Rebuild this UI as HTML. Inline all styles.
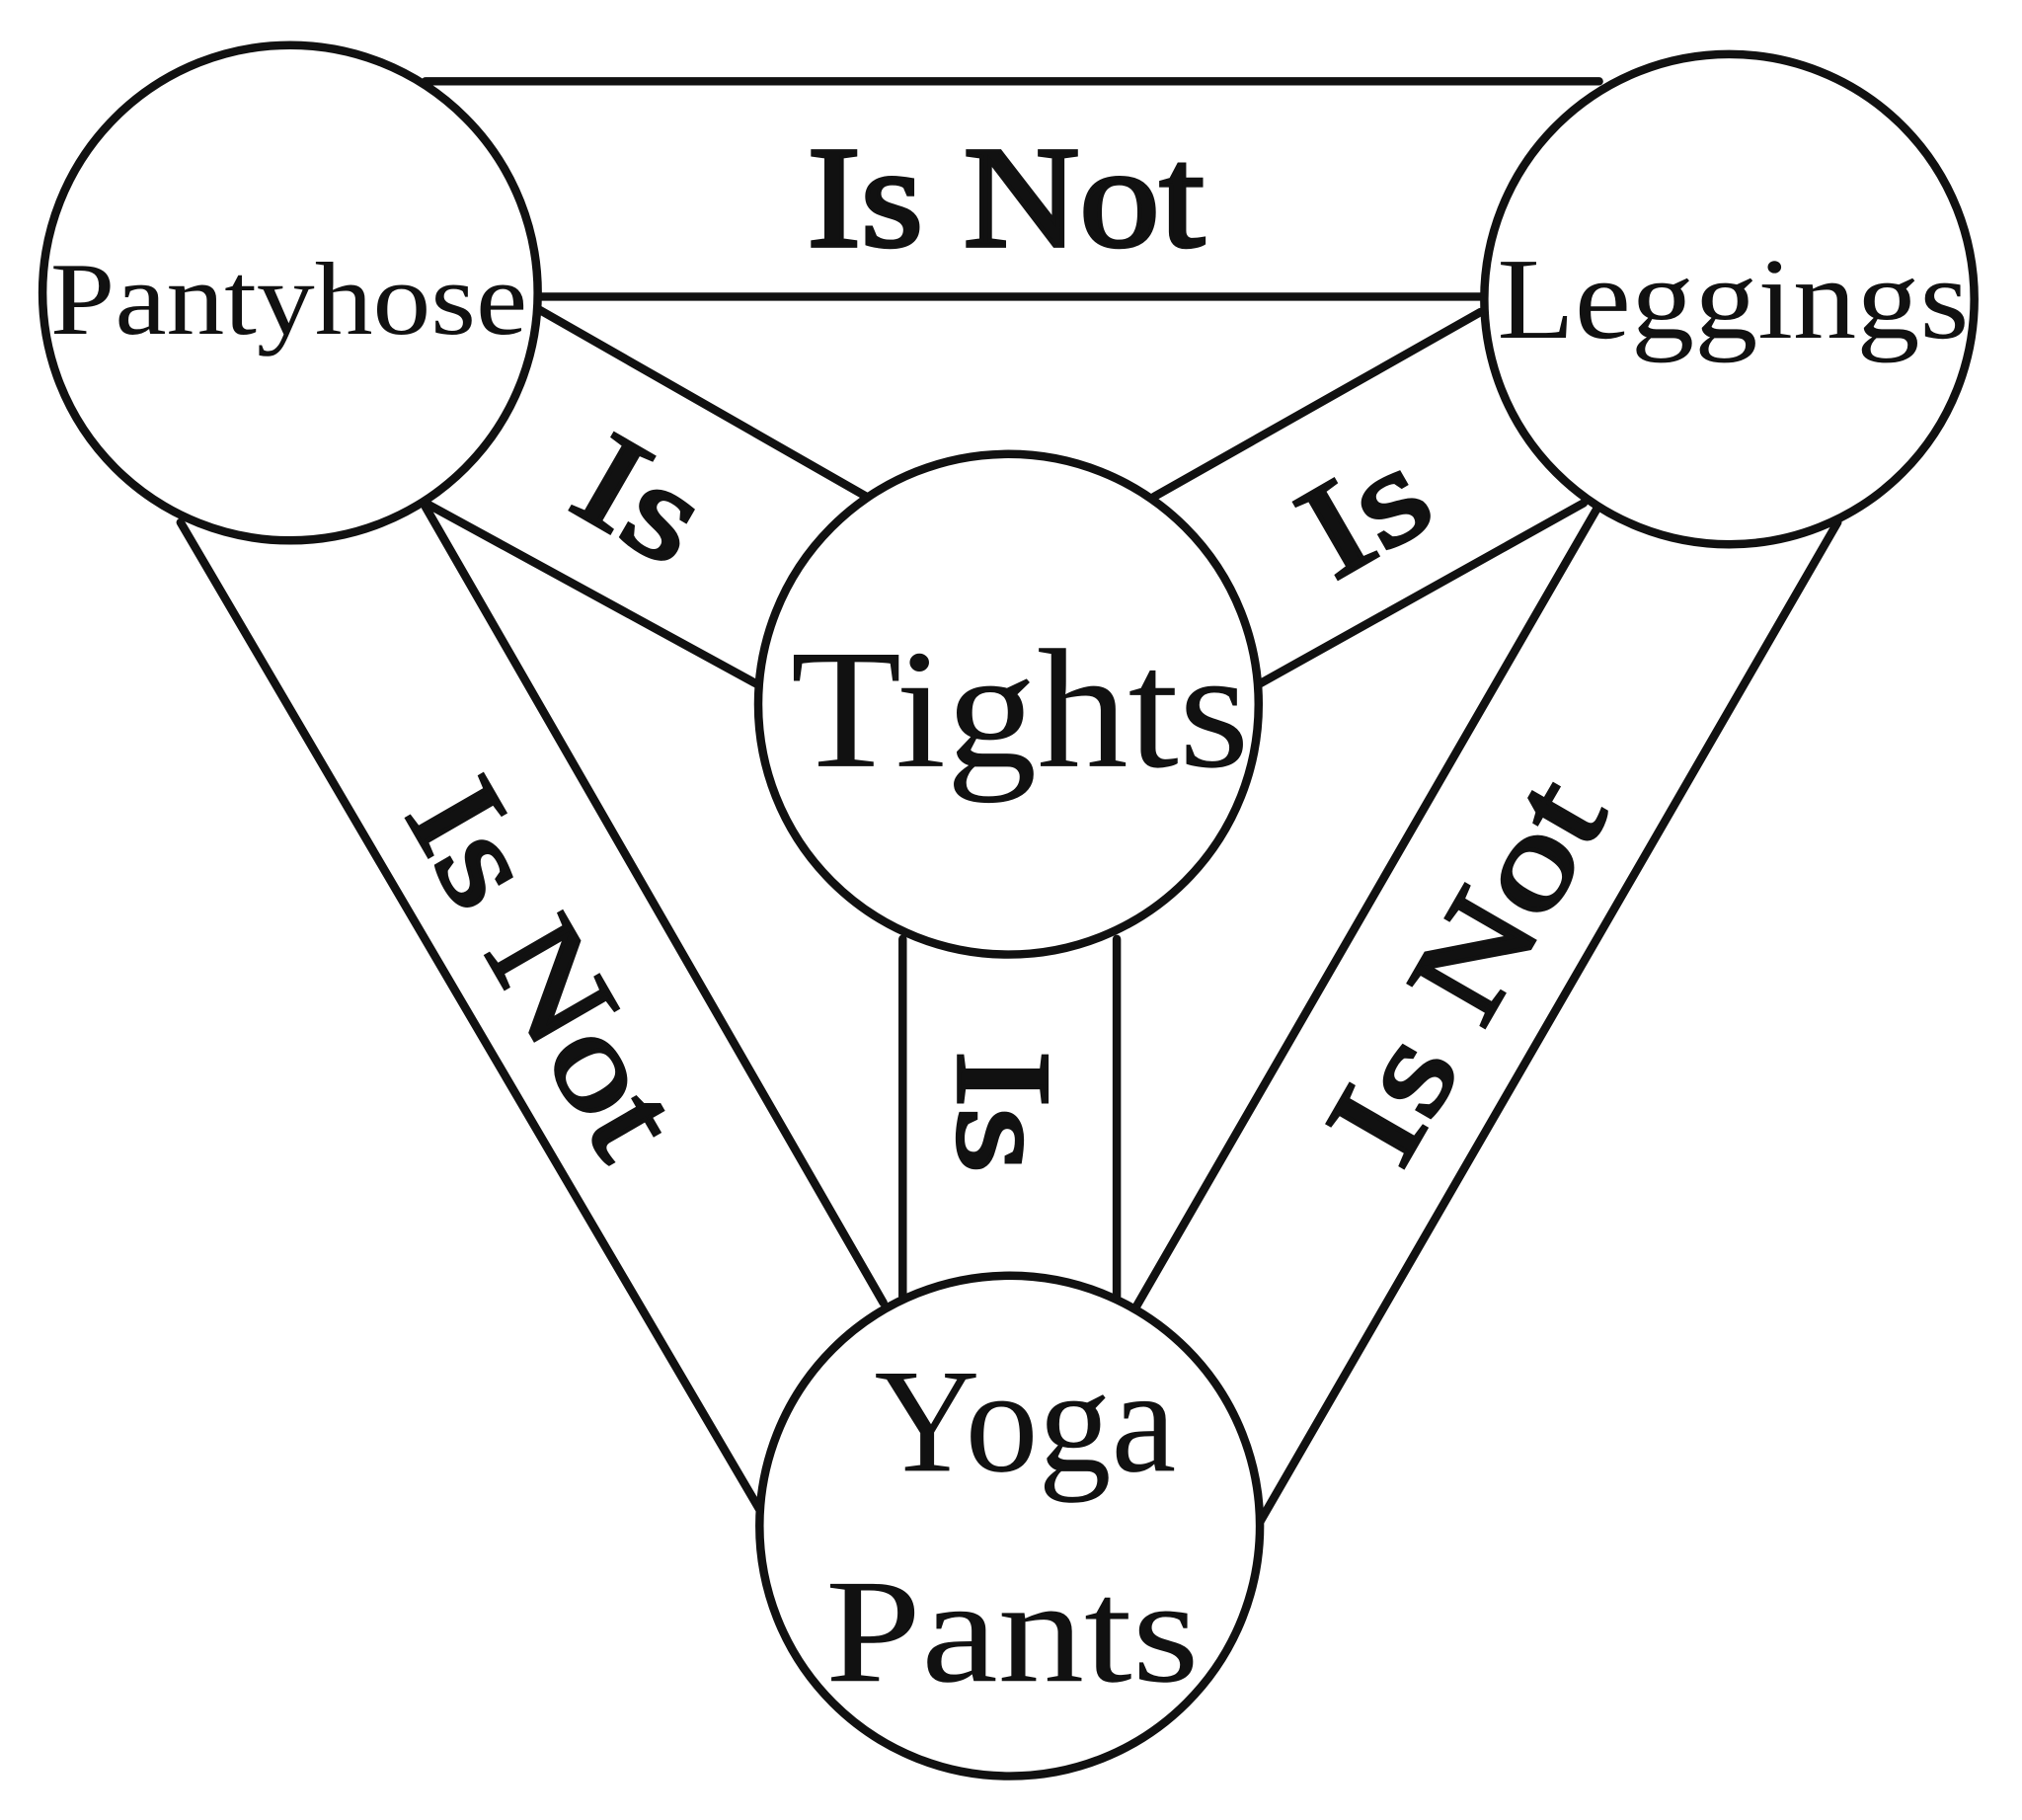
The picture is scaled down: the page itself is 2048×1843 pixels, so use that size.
<!DOCTYPE html>
<html><head><meta charset="utf-8"><style>
html,body{margin:0;padding:0;background:#fff;}
svg{display:block;}
text{font-family:"Liberation Serif","DejaVu Serif",serif;fill:#111;text-anchor:middle;dominant-baseline:central;}
.b{stroke:#111;stroke-width:3;}
</style></head><body>
<svg width="2048" height="1843" viewBox="0 0 1568 1411" xmlns="http://www.w3.org/2000/svg">
<rect width="1568" height="1411" fill="#fff"/>
<g stroke="#111" stroke-width="6.5" fill="none" stroke-linecap="round">
<line x1="330" y1="63" x2="1240" y2="63"/>
<line x1="418" y1="230" x2="1148" y2="230"/>
<line x1="418" y1="240" x2="672" y2="385"/>
<line x1="330" y1="390" x2="590" y2="532"/>
<line x1="895" y1="385" x2="1148" y2="242"/>
<line x1="977" y1="530" x2="1228" y2="390"/>
<line x1="140" y1="405" x2="590" y2="1172"/>
<line x1="330" y1="393" x2="685" y2="1010"/>
<line x1="700" y1="728" x2="700" y2="1005"/>
<line x1="866" y1="728" x2="866" y2="1005"/>
<line x1="1238" y1="395" x2="880" y2="1015"/>
<line x1="1425" y1="405" x2="977" y2="1180"/>
<circle cx="225" cy="227" r="192" fill="#fff"/>
<circle cx="1341" cy="232" r="190" fill="#fff"/>
<circle cx="782" cy="546" r="194" fill="#fff"/>
<circle cx="783" cy="1183" r="194" fill="#fff"/>
</g>
<text x="780" y="153" font-size="112" class="b" textLength="308" lengthAdjust="spacingAndGlyphs">Is Not</text>
<text x="224" y="232" font-size="80" textLength="370" lengthAdjust="spacingAndGlyphs">Pantyhose</text>
<text x="1344" y="232" font-size="90" textLength="366" lengthAdjust="spacingAndGlyphs">Leggings</text>
<text x="791" y="550" font-size="132" textLength="356" lengthAdjust="spacingAndGlyphs">Tights</text>
<text x="795" y="1102" font-size="115" textLength="234" lengthAdjust="spacingAndGlyphs">Yoga</text>
<text x="785" y="1265" font-size="115" textLength="290" lengthAdjust="spacingAndGlyphs">Pants</text>
<text transform="translate(497,387) rotate(30)" font-size="104" class="b" textLength="95" lengthAdjust="spacingAndGlyphs">Is</text>
<text transform="translate(1058,397) rotate(-30)" font-size="104" class="b" textLength="95" lengthAdjust="spacingAndGlyphs">Is</text>
<text transform="translate(778,862) rotate(90)" font-size="104" class="b" textLength="95" lengthAdjust="spacingAndGlyphs">Is</text>
<text transform="translate(422,750) rotate(60)" font-size="104" class="b" textLength="315" lengthAdjust="spacingAndGlyphs">Is Not</text>
<text transform="translate(1137,752) rotate(-60)" font-size="104" class="b" textLength="322" lengthAdjust="spacingAndGlyphs">Is Not</text>
</svg>
</body></html>
